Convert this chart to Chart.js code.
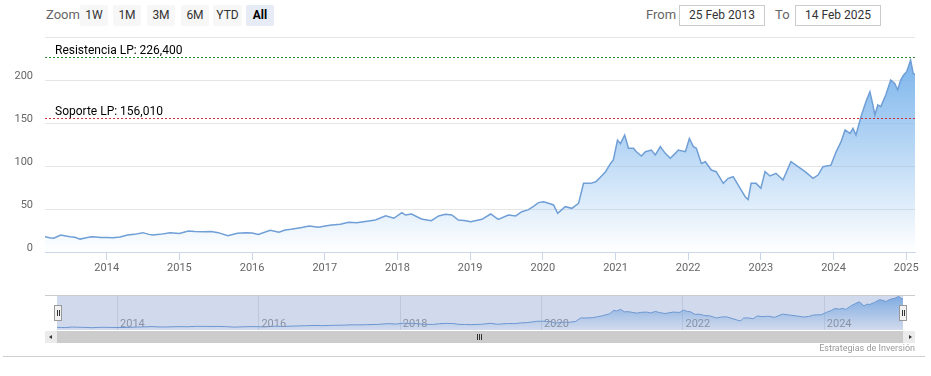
<!DOCTYPE html>
<html>
<head>
<meta charset="utf-8">
<script src="https://cdn.jsdelivr.net/npm/chart.js@4.4.1/dist/chart.umd.min.js"></script>
<style>
    body { margin: 0; width: 931px; height: 376px; background: #fff; position: relative; overflow: hidden; font-family: Roboto, "Noto Sans", sans-serif; }
    .txt { position: absolute; font-size: 13px; color: #666; line-height: 20px; top: 5px; }
    .btn { position: absolute; top: 5px; width: 28px; height: 21px; line-height: 21px; text-align: center; background: #f7f7f7; color: #333; font-size: 12px; border-radius: 2px; }
    .btn.sel { background: #e6ebf5; color: #000; font-weight: bold; }
    .inp { position: absolute; top: 5px; width: 84px; height: 19px; line-height: 19px; border: 1px solid #ccc; text-align: center; color: #333; font-size: 12px; }
    canvas { position: absolute; }
    .handle { position: absolute; top: 305px; width: 6px; height: 14px; background: #f2f2f2; border: 1px solid #999; }
    .handle::before, .handle::after { content: ""; position: absolute; top: 4px; width: 1px; height: 6px; background: #333; }
    .handle::before { left: 2px; }
    .handle::after { left: 4px; }
    .sb { position: absolute; top: 331px; height: 12px; }
</style>
</head>
<body>
<div class="txt" style="left:46px">Zoom</div>
<div class="btn" style="left:80px">1W</div>
<div class="btn" style="left:113px">1M</div>
<div class="btn" style="left:147px">3M</div>
<div class="btn" style="left:181px">6M</div>
<div class="btn" style="left:213px;width:29px">YTD</div>
<div class="btn sel" style="left:246px">All</div>
<div class="txt" style="left:646px">From</div>
<div class="inp" style="left:679px" id="fromBox"></div>
<div class="txt" style="left:775px">To</div>
<div class="inp" style="left:795px" id="toBox"></div>

<canvas id="main" width="931" height="290" style="left:0;top:0"></canvas>
<canvas id="nav" width="846" height="34" style="left:57px;top:296px"></canvas>
<div style="position:absolute;left:45px;top:295px;width:870px;height:1px;background:#ccc"></div>
<div class="handle" style="left:54px"></div>
<div class="handle" style="left:899px"></div>

<div class="sb" style="left:45px;width:12px;background:#ebebeb"></div>
<div class="sb" style="left:57px;width:846px;background:#cccccc"></div>
<div class="sb" style="left:903px;width:12px;background:#ebebeb"></div>
<div style="position:absolute;left:49px;top:335px;width:0;height:0;border-top:2px solid transparent;border-bottom:2px solid transparent;border-right:3px solid #333"></div>
<div style="position:absolute;left:909px;top:335px;width:0;height:0;border-top:2px solid transparent;border-bottom:2px solid transparent;border-left:3px solid #333"></div>
<div style="position:absolute;left:477px;top:334px;width:1px;height:6px;background:#333"></div>
<div style="position:absolute;left:479px;top:334px;width:1px;height:6px;background:#333"></div>
<div style="position:absolute;left:481px;top:334px;width:1px;height:6px;background:#333"></div>

<div style="position:absolute;right:16px;top:343px;font-size:9px;color:#999">Estrategias de Inversión</div>
<div style="position:absolute;left:3px;top:356px;width:922px;height:1px;background:#d0d0d0"></div>

<script>
(function () {
    "use strict";

    const rangeFrom = "2013-02-25";
    const rangeTo = "2025-02-14";
    const fromLabel = "25 Feb 2013";
    const toLabel = "14 Feb 2025";

    const dates = [
        "2013-02-25", "2013-03-20", "2013-04-10", "2013-05-15", "2013-06-10", "2013-07-01",
        "2013-07-25", "2013-08-20", "2013-09-15", "2013-10-15", "2013-11-10", "2013-12-01",
        "2014-01-01", "2014-02-01", "2014-03-10", "2014-04-15", "2014-05-20", "2014-07-01",
        "2014-08-01", "2014-08-20", "2014-09-25", "2014-11-15", "2015-01-01", "2015-02-15",
        "2015-03-20", "2015-05-01", "2015-06-10", "2015-07-15", "2015-09-01", "2015-10-20",
        "2015-12-01", "2016-01-01", "2016-02-01", "2016-04-01", "2016-05-15", "2016-06-15",
        "2016-07-15", "2016-09-01", "2016-10-15", "2016-12-01", "2017-01-10", "2017-02-05",
        "2017-03-20", "2017-05-01", "2017-06-10", "2017-07-15", "2017-09-12", "2017-11-03",
        "2017-12-14", "2018-01-23", "2018-02-10", "2018-03-13", "2018-05-01", "2018-06-20",
        "2018-07-27", "2018-08-30", "2018-10-01", "2018-11-03", "2018-12-01", "2019-01-04",
        "2019-03-01", "2019-04-14", "2019-05-22", "2019-07-12", "2019-08-18", "2019-09-17",
        "2019-10-19", "2019-11-15", "2019-12-10", "2020-01-04", "2020-01-30", "2020-02-24",
        "2020-03-16", "2020-04-23", "2020-05-26", "2020-06-29", "2020-07-24", "2020-08-28",
        "2020-09-24", "2020-10-19", "2020-11-12", "2020-12-07", "2020-12-21", "2021-01-11",
        "2021-01-26", "2021-02-16", "2021-03-07", "2021-04-01", "2021-04-16", "2021-05-11",
        "2021-05-31", "2021-06-30", "2021-07-20", "2021-08-14", "2021-09-08", "2021-10-03",
        "2021-10-28", "2021-11-13", "2021-12-18", "2022-01-07", "2022-01-27", "2022-02-11",
        "2022-03-08", "2022-03-28", "2022-04-27", "2022-05-22", "2022-06-26", "2022-07-21",
        "2022-08-15", "2022-09-19", "2022-10-14", "2022-10-29", "2022-11-13", "2022-12-08",
        "2023-01-01", "2023-01-22", "2023-02-16", "2023-03-18", "2023-04-22", "2023-06-01",
        "2023-06-26", "2023-08-11", "2023-09-20", "2023-10-15", "2023-11-09", "2023-12-19",
        "2024-01-14", "2024-02-08", "2024-02-28", "2024-03-24", "2024-04-08", "2024-04-23",
        "2024-05-18", "2024-06-12", "2024-07-02", "2024-07-17", "2024-07-27", "2024-08-11",
        "2024-08-26", "2024-09-20", "2024-10-15", "2024-11-04", "2024-11-19", "2024-12-04",
        "2024-12-19", "2025-01-03", "2025-01-23", "2025-02-05", "2025-02-14",
    ];

    const prices = [
        17.8, 16.5, 16.0, 19.8, 18.5, 17.8,
        17.2, 15.0, 16.4, 17.8, 17.5, 17.0,
        16.8, 16.5, 17.5, 19.8, 20.5, 22.5,
        20.5, 19.8, 20.5, 22.5, 21.5, 24.4,
        23.8, 23.5, 23.8, 22.5, 19.0, 21.7,
        22.5, 22.0, 20.5, 25.2, 23.0, 25.6,
        26.4, 28.3, 30.2, 28.7, 30.5, 31.4,
        32.2, 34.5, 34.0, 35.3, 37.2, 42.2,
        39.2, 45.7, 43.0, 44.2, 38.4, 36.4,
        41.9, 43.8, 43.0, 37.2, 36.5, 35.3,
        38.0, 44.2, 38.0, 43.0, 41.9, 46.9,
        49.0, 53.0, 57.4, 58.5, 56.6, 54.7,
        45.0, 52.7, 50.8, 56.6, 79.8, 79.8,
        81.7, 87.6, 93.4, 103.0, 107.0, 130.0,
        126.0, 136.0, 120.6, 120.6, 116.6, 111.6,
        116.6, 118.6, 112.8, 122.5, 114.7, 109.0,
        114.7, 118.6, 116.6, 132.0, 122.5, 120.6,
        103.0, 105.0, 95.3, 93.4, 79.8, 85.7,
        87.6, 74.0, 64.3, 61.0, 79.8, 79.8,
        74.0, 93.4, 88.4, 91.5, 83.7, 105.0,
        101.0, 93.4, 85.7, 89.5, 99.2, 101.0,
        116.6, 128.3, 141.9, 138.0, 143.8, 136.0,
        157.4, 174.8, 186.4, 171.0, 159.3, 171.0,
        169.0, 182.6, 200.0, 196.0, 188.4, 200.0,
        205.8, 209.7, 223.0, 207.8, 206.0,
    ];

    const yearTicks = [2014, 2015, 2016, 2017, 2018, 2019, 2020, 2021, 2022, 2023, 2024, 2025];
    const navTicks = [2014, 2016, 2018, 2020, 2022, 2024];
    const yTicks = [0, 50, 100, 150, 200, 250];

    const levelNames = ["Resistencia LP", "Soporte LP"];
    const levelValues = [226.4, 156.01];

    const FONT = "Roboto, 'Noto Sans', sans-serif";
    const levelColors = ["#2e8b2e", "#c8323c"];

    document.getElementById("fromBox").textContent = fromLabel;
    document.getElementById("toBox").textContent = toLabel;

    function toYear(s) {
        const d = Date.parse(s + "T00:00:00Z");
        const y = new Date(d).getUTCFullYear();
        const a = Date.UTC(y, 0, 1);
        const b = Date.UTC(y + 1, 0, 1);
        return y + (d - a) / (b - a);
    }

    const points = dates.map((d, i) => ({ x: toYear(d), y: prices[i] }));
    const xMin = toYear(rangeFrom);
    const xMax = toYear(rangeTo);
    const peak = Math.max(...prices);

    function areaFill(context, alphaTop) {
        const chart = context.chart;
        const area = chart.chartArea;
        if (!area) return null;
        const top = chart.scales.y.getPixelForValue(peak);
        const g = chart.ctx.createLinearGradient(0, top, 0, area.bottom);
        g.addColorStop(0, "rgba(124,181,236," + alphaTop + ")");
        g.addColorStop(1, "rgba(124,181,236,0)");
        return g;
    }

    // Support / resistance lines
    const levelsPlugin = {
        id: "levels",
        afterDatasetsDraw(chart) {
            const { ctx, chartArea, scales } = chart;
            levelValues.forEach((v, i) => {
                const y = Math.round(scales.y.getPixelForValue(v)) + 0.5;
                ctx.save();
                ctx.strokeStyle = levelColors[i];
                ctx.lineWidth = 1;
                ctx.setLineDash([2, 2]);
                ctx.beginPath();
                ctx.moveTo(chartArea.left, y);
                ctx.lineTo(chartArea.right, y);
                ctx.stroke();
                ctx.fillStyle = "#000";
                ctx.font = "12px " + FONT;
                ctx.textBaseline = "bottom";
                ctx.fillText(levelNames[i] + ": " + v.toFixed(3).replace(".", ","), chartArea.left + 10, y - 1);
                ctx.restore();
            });
        },
    };

    new Chart(document.getElementById("main").getContext("2d"), {
        type: "line",
        data: {
            datasets: [
                {
                    data: points,
                    borderColor: "#6f9fd6",
                    borderWidth: 1.5,
                    pointRadius: 0,
                    tension: 0,
                    fill: "origin",
                    backgroundColor: (c) => areaFill(c, 1),
                },
            ],
        },
        options: {
            responsive: false,
            animation: false,
            layout: { padding: { top: 37, right: 16, left: 0, bottom: 0 } },
            plugins: { legend: { display: false }, tooltip: { enabled: false } },
            scales: {
                x: {
                    type: "linear",
                    min: xMin,
                    max: xMax,
                    afterBuildTicks: (s) => { s.ticks = yearTicks.map((v) => ({ value: v })); },
                    afterFit: (s) => { s.height = 38; },
                    ticks: {
                        autoSkip: false,
                        maxRotation: 0,
                        padding: 2,
                        color: "#666",
                        font: { size: 11, family: FONT },
                        callback: (v) => String(v),
                    },
                    grid: { drawOnChartArea: false, drawTicks: true, tickLength: 8, color: "#ccd6eb" },
                    border: { display: true, color: "#ccd6eb" },
                },
                y: {
                    min: 0,
                    max: 250,
                    afterBuildTicks: (s) => { s.ticks = yTicks.map((v) => ({ value: v })); },
                    afterFit: (s) => { s.width = 45; },
                    ticks: {
                        padding: 12,
                        labelOffset: -4,
                        color: "#666",
                        font: { size: 11, family: FONT },
                        callback: (v) => (v === 250 ? "" : v),
                    },
                    grid: { color: "#e6e6e6", drawTicks: false },
                    border: { display: false },
                },
            },
        },
        plugins: [levelsPlugin],
    });

    // Navigator
    const navPlugin = {
        id: "navGrid",
        beforeDatasetsDraw(chart) {
            const { ctx, chartArea, scales } = chart;
            ctx.save();
            ctx.strokeStyle = "#e6e6e6";
            ctx.lineWidth = 1;
            navTicks.forEach((t) => {
                const x = Math.round(scales.x.getPixelForValue(t)) + 0.5;
                ctx.beginPath();
                ctx.moveTo(x, chartArea.top);
                ctx.lineTo(x, chartArea.bottom);
                ctx.stroke();
            });
            ctx.restore();
        },
        afterDatasetsDraw(chart) {
            const { ctx, chartArea, scales } = chart;
            ctx.save();
            ctx.fillStyle = "#999";
            ctx.font = "11px " + FONT;
            ctx.textBaseline = "alphabetic";
            navTicks.forEach((t) => {
                const x = scales.x.getPixelForValue(t);
                ctx.fillText(String(t), x + 3, chartArea.bottom - 3);
            });
            ctx.fillStyle = "rgba(102,133,194,0.3)";
            ctx.fillRect(chartArea.left, chartArea.top, chartArea.right - chartArea.left, chartArea.bottom - chartArea.top);
            ctx.restore();
        },
    };

    new Chart(document.getElementById("nav").getContext("2d"), {
        type: "line",
        data: {
            datasets: [
                {
                    data: points,
                    borderColor: "#6f9fd6",
                    borderWidth: 1,
                    pointRadius: 0,
                    fill: "origin",
                    backgroundColor: (c) => areaFill(c, 0.9),
                },
            ],
        },
        options: {
            responsive: false,
            animation: false,
            layout: { padding: 0 },
            plugins: { legend: { display: false }, tooltip: { enabled: false } },
            scales: {
                x: { type: "linear", min: xMin, max: xMax, display: false },
                y: { min: 0, max: 225, display: false },
            },
        },
        plugins: [navPlugin],
    });
})();
</script>
</body>
</html>
